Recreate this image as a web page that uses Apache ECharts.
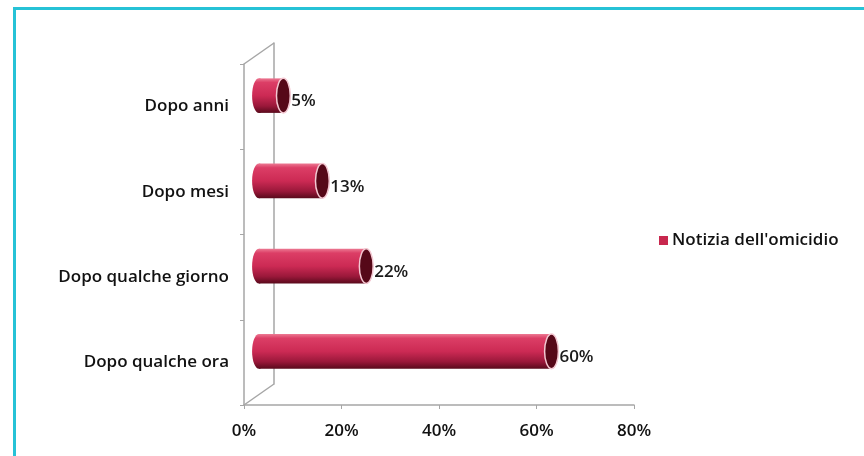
<!DOCTYPE html>
<html><head><meta charset="utf-8">
<script src="https://cdn.jsdelivr.net/npm/echarts@6/dist/echarts.min.js"></script>
<style>html,body{margin:0;padding:0;background:#fff}#c{width:864px;height:456px}</style>
</head><body><div id="c"></div>
<script>
// ---- data ----
const categories = ['Dopo qualche ora', 'Dopo qualche giorno', 'Dopo mesi', 'Dopo anni'];
const values = [60, 22, 13, 5];
const seriesName = "Notizia dell'omicidio";
const xMin = 0, xMax = 80, xInterval = 20;

// ---- layout ----
const FONT = '"Open Sans"';
const FS = 17, FW = 600;
const G = { left: 244, top: 64, width: 390, height: 341 };   // front plane
const DEPTH = { dx: 30, dy: -21 };                             // back wall offset
const HALF = { dx: 15, dy: -11 };                              // bar depth offset
const AXIS_COLOR = '#a6a6a6';

const chart = echarts.init(document.getElementById('c'), null, { renderer: 'canvas' });

function gridAt(off) {
  return { left: G.left + off.dx, top: G.top + off.dy, width: G.width, height: G.height, containLabel: false };
}

function renderItem(params, api) {
  const v = api.value(0), ci = api.value(1);
  const start = api.coord([0, ci]);
  const end = api.coord([v, ci]);
  const band = api.size([0, 1])[1];
  const h = band * 0.405;
  const ry = h / 2, rx = h * 0.2;
  const cy = end[1];
  const grad = new echarts.graphic.LinearGradient(0, 0, 0, 1, [
    { offset: 0, color: '#ec7892' },
    { offset: 0.12, color: '#dc3e66' },
    { offset: 0.5, color: '#cc2a54' },
    { offset: 0.8, color: '#9a183a' },
    { offset: 1, color: '#5a0a1c' }
  ]);
  return {
    type: 'group',
    children: [
      { type: 'ellipse', shape: { cx: start[0], cy: cy, rx: rx, ry: ry }, style: { fill: grad } },
      { type: 'rect', shape: { x: start[0], y: cy - ry, width: end[0] - start[0], height: h }, style: { fill: grad } },
      { type: 'ellipse', shape: { cx: end[0], cy: cy, rx: rx, ry: ry }, style: { fill: '#560818', stroke: '#f4c8d2', lineWidth: 1.5 } },
      { type: 'text', x: end[0] + rx + 1, y: cy + 6,
        style: { text: v + '%', fill: '#1a1a1a', font: FW + ' ' + FS + 'px ' + FONT, verticalAlign: 'middle', align: 'left' } }
    ]
  };
}

const backTop = [G.left + DEPTH.dx, G.top + DEPTH.dy];
const backBot = [G.left + DEPTH.dx, G.top + G.height + DEPTH.dy];
const labelStyle = { fontSize: FS, fontWeight: FW, color: '#111', fontFamily: FONT };

chart.setOption({
  backgroundColor: '#ffffff',
  animation: false,
  textStyle: { fontFamily: FONT },
  legend: {
    left: 659, top: 232, padding: 0,
    itemWidth: 9, itemHeight: 9, itemGap: 10,
    icon: 'rect',
    textStyle: Object.assign({ padding: [0, 0, 0, -1] }, labelStyle),
    data: [seriesName]
  },
  grid: [gridAt({ dx: 0, dy: 0 }), gridAt(DEPTH), gridAt(HALF)],
  xAxis: [
    { gridIndex: 0, type: 'value', min: xMin, max: xMax, interval: xInterval,
      axisLine: { show: true, lineStyle: { color: AXIS_COLOR, width: 1.5 } },
      axisTick: { show: true, length: 4, lineStyle: { color: AXIS_COLOR } },
      splitLine: { show: false },
      axisLabel: Object.assign({ formatter: '{value}%', margin: 18 }, labelStyle) },
    { gridIndex: 1, type: 'value', min: xMin, max: xMax, show: false },
    { gridIndex: 2, type: 'value', min: xMin, max: xMax, show: false }
  ],
  yAxis: [
    { gridIndex: 0, type: 'category', data: categories,
      axisLine: { show: true, lineStyle: { color: AXIS_COLOR, width: 1.5 } },
      axisTick: { show: true, length: 4, lineStyle: { color: AXIS_COLOR } },
      axisLabel: Object.assign({ margin: 15 }, labelStyle) },
    { gridIndex: 1, type: 'category', data: categories,
      axisLine: { show: true, lineStyle: { color: AXIS_COLOR, width: 1.5 } },
      axisTick: { show: false }, axisLabel: { show: false } },
    { gridIndex: 2, type: 'category', data: categories, show: false }
  ],
  series: [{
    name: seriesName,
    type: 'custom',
    xAxisIndex: 2, yAxisIndex: 2,
    itemStyle: { color: '#c8284e' },
    renderItem: renderItem,
    encode: { x: 0, y: 1 },
    data: values.map((v, i) => [v, i])
  }],
  graphic: [
    { type: 'line', shape: { x1: G.left, y1: G.top, x2: backTop[0], y2: backTop[1] }, style: { stroke: AXIS_COLOR, lineWidth: 1.5 }, silent: true },
    { type: 'line', shape: { x1: G.left, y1: G.top + G.height, x2: backBot[0], y2: backBot[1] }, style: { stroke: AXIS_COLOR, lineWidth: 1.5 }, silent: true },
    { type: 'rect', shape: { x: 13, y: 7, width: 851, height: 3 }, style: { fill: '#26c2d6' }, silent: true },
    { type: 'rect', shape: { x: 13, y: 7, width: 3, height: 449 }, style: { fill: '#26c2d6' }, silent: true }
  ]
});
</script>
</body></html>
